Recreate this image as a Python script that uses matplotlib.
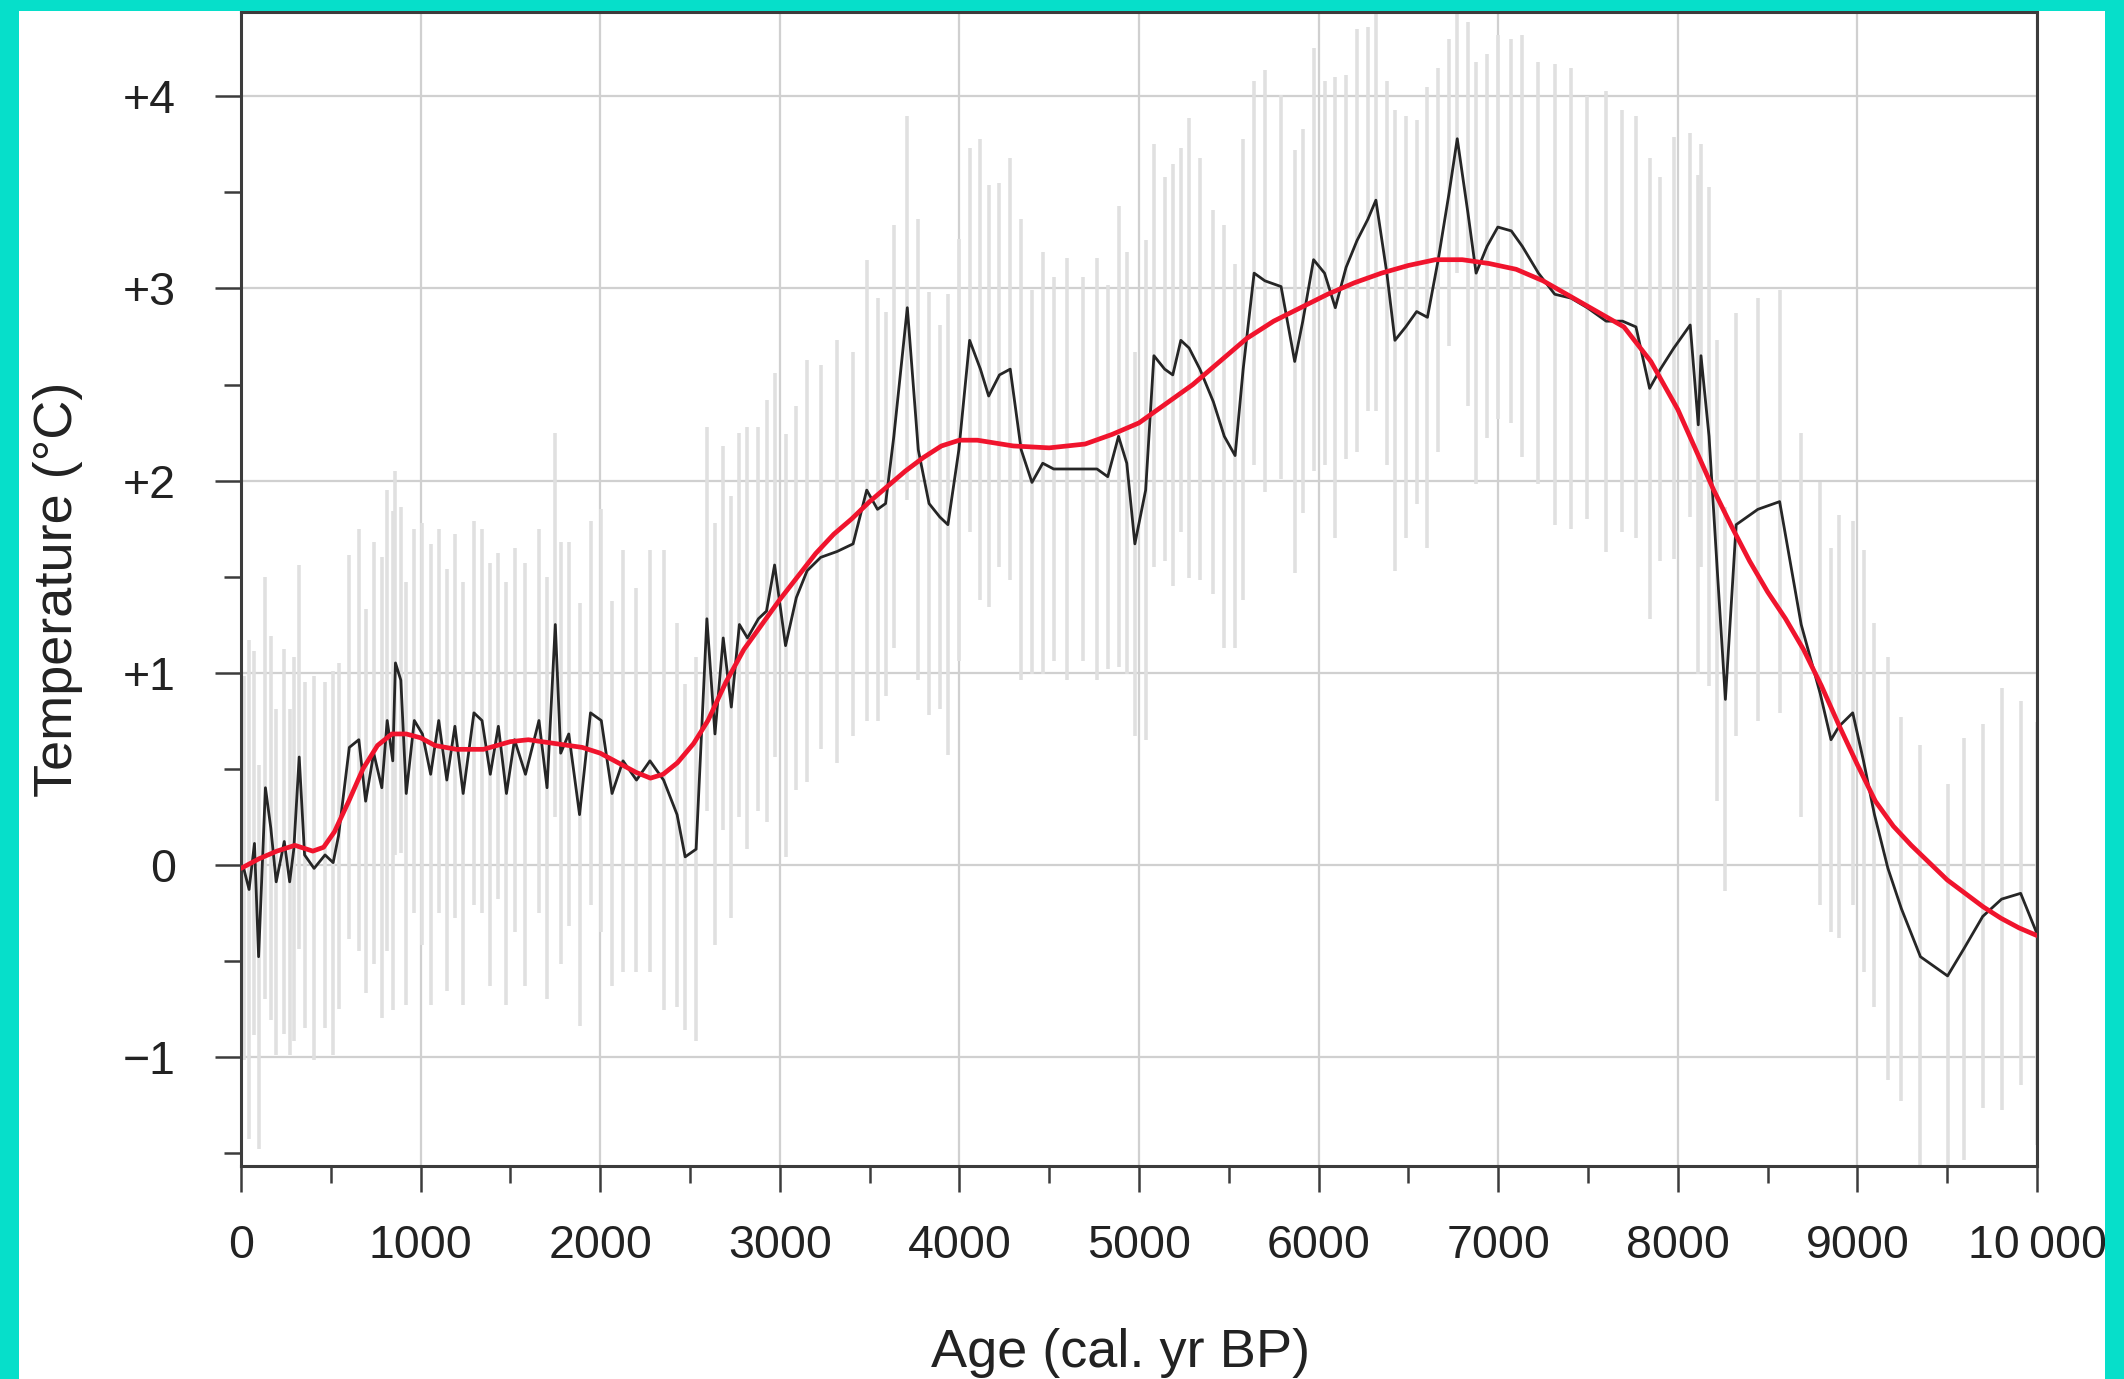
import matplotlib
matplotlib.use('Agg')
import matplotlib.pyplot as plt
from matplotlib.patches import Rectangle
from matplotlib.ticker import FixedLocator
import numpy as np

plt.rcParams['font.family'] = ['Liberation Sans', 'DejaVu Sans']

# reconstruction (black line), age in cal. yr BP, anomaly in deg C
age = [15, 45, 75, 98, 136, 166, 196, 241, 271, 294, 324, 354, 407, 468, 513, 543,
       603, 656, 694, 739, 784, 814, 845, 860, 890, 920, 965, 1010, 1056, 1101, 1146,
       1191, 1237, 1297, 1342, 1388, 1433, 1478, 1523, 1584, 1659, 1704, 1750, 1780,
       1825, 1885, 1946, 2006, 2066, 2127, 2202, 2277, 2353, 2428, 2473, 2534, 2594,
       2639, 2685, 2730, 2775, 2820, 2881, 2926, 2971, 3032, 3092, 3152, 3228, 3318,
       3408, 3484, 3544, 3589, 3635, 3710, 3771, 3831, 3891, 3936, 3997, 4057, 4117,
       4163, 4223, 4283, 4344, 4404, 4464, 4525, 4600, 4690, 4766, 4826, 4886, 4932,
       4977, 5037, 5083, 5143, 5188, 5233, 5279, 5339, 5414, 5475, 5535, 5580, 5641,
       5701, 5791, 5867, 5912, 5972, 6033, 6093, 6153, 6214, 6274, 6319, 6380, 6425,
       6485, 6546, 6606, 6666, 6727, 6772, 6832, 6877, 6938, 6998, 7073, 7134, 7224,
       7315, 7405, 7496, 7601, 7692, 7767, 7843, 7903, 7978, 8069, 8114, 8129, 8174,
       8220, 8265, 8325, 8446, 8567, 8687, 8793, 8853, 8898, 8974, 9034, 9095, 9170,
       9245, 9351, 9502, 9592, 9698, 9803, 9909, 10000]
temp = [-0.02, -0.13, 0.11, -0.48, 0.40, 0.19, -0.09, 0.12, -0.09, 0.08, 0.56, 0.05,
        -0.02, 0.05, 0.01, 0.15, 0.61, 0.65, 0.33, 0.58, 0.40, 0.75, 0.54, 1.05, 0.96,
        0.37, 0.75, 0.68, 0.47, 0.75, 0.44, 0.72, 0.37, 0.79, 0.75, 0.47, 0.72, 0.37,
        0.65, 0.47, 0.75, 0.40, 1.25, 0.58, 0.68, 0.26, 0.79, 0.75, 0.37, 0.54, 0.44,
        0.54, 0.44, 0.26, 0.04, 0.08, 1.28, 0.68, 1.18, 0.82, 1.25, 1.18, 1.28, 1.32,
        1.56, 1.14, 1.39, 1.53, 1.60, 1.63, 1.67, 1.95, 1.85, 1.88, 2.23, 2.90, 2.16,
        1.88, 1.81, 1.77, 2.16, 2.73, 2.58, 2.44, 2.55, 2.58, 2.16, 1.99, 2.09, 2.06,
        2.06, 2.06, 2.06, 2.02, 2.23, 2.09, 1.67, 1.95, 2.65, 2.58, 2.55, 2.73, 2.69,
        2.58, 2.41, 2.23, 2.13, 2.58, 3.08, 3.04, 3.01, 2.62, 2.83, 3.15, 3.08, 2.90,
        3.11, 3.25, 3.36, 3.46, 3.08, 2.73, 2.80, 2.88, 2.85, 3.15, 3.50, 3.78, 3.39,
        3.08, 3.22, 3.32, 3.30, 3.22, 3.08, 2.97, 2.95, 2.90, 2.83, 2.83, 2.80, 2.48,
        2.58, 2.69, 2.81, 2.29, 2.65, 2.23, 1.53, 0.86, 1.77, 1.85, 1.89, 1.25, 0.89,
        0.65, 0.72, 0.79, 0.54, 0.26, -0.02, -0.23, -0.48, -0.58, -0.44, -0.27, -0.18,
        -0.15, -0.36]
# half length of the grey uncertainty bars
err = [1.0, 1.3, 1.0, 1.0, 1.1, 1.0, 0.9, 1.0, 0.9, 1.0, 1.0, 0.9, 1.0, 0.9, 1.0, 0.9,
       1.0, 1.1, 1.0, 1.1, 1.2, 1.2, 1.3, 1.0, 0.9, 1.1, 1.0, 1.1, 1.2, 1.0, 1.1, 1.0,
       1.1, 1.0, 1.0, 1.1, 0.9, 1.1, 1.0, 1.1, 1.0, 1.1, 1.0, 1.1, 1.0, 1.1, 1.0, 1.1,
       1.0, 1.1, 1.0, 1.1, 1.2, 1.0, 0.9, 1.0, 1.0, 1.1, 1.0, 1.1, 1.0, 1.1, 1.0, 1.1,
       1.0, 1.1, 1.0, 1.1, 1.0, 1.1, 1.0, 1.2, 1.1, 1.0, 1.1, 1.0, 1.2, 1.1, 1.0, 1.2,
       1.1, 1.0, 1.2, 1.1, 1.0, 1.1, 1.2, 1.0, 1.1, 1.0, 1.1, 1.0, 1.1, 1.0, 1.2, 1.1,
       1.0, 1.3, 1.1, 1.0, 1.1, 1.0, 1.2, 1.1, 1.0, 1.1, 1.0, 1.2, 1.0, 1.1, 1.0, 1.1,
       1.0, 1.1, 1.0, 1.2, 1.0, 1.1, 1.0, 1.1, 1.0, 1.2, 1.1, 1.0, 1.2, 1.0, 0.8, 0.7,
       1.0, 1.1, 1.0, 1.0, 1.0, 1.1, 1.1, 1.2, 1.2, 1.1, 1.2, 1.1, 1.1, 1.2, 1.0, 1.1,
       1.0, 1.3, 1.1, 1.3, 1.2, 1.0, 1.1, 1.1, 1.1, 1.0, 1.1, 1.0, 1.1, 1.0, 1.1, 1.0,
       1.1, 1.0, 1.1, 1.0, 1.1, 1.0, 1.1, 1.0, 1.1]

# smoothed curve (red)
smooth_age = [0, 100, 200, 300, 400, 460, 520, 600, 680, 760, 840, 920, 1000, 1080,
              1200, 1350, 1500, 1600, 1750, 1900, 2000, 2100, 2200, 2280, 2350, 2430,
              2520, 2600, 2700, 2800, 2900, 3000, 3100, 3200, 3300, 3400, 3500, 3600,
              3700, 3800, 3900, 4000, 4100, 4300, 4500, 4700, 4850, 5000, 5150, 5300,
              5450, 5600, 5750, 5900, 6050, 6200, 6350, 6500, 6650, 6800, 6950, 7100,
              7250, 7400, 7550, 7700, 7850, 8000, 8100, 8200, 8300, 8400, 8500, 8600,
              8700, 8800, 8900, 9000, 9100, 9200, 9300, 9400, 9500, 9600, 9700, 9800,
              9900, 10000]
smooth_temp = [-0.02, 0.03, 0.07, 0.10, 0.07, 0.09, 0.17, 0.33, 0.50, 0.62, 0.68, 0.68,
               0.66, 0.62, 0.60, 0.60, 0.64, 0.65, 0.63, 0.61, 0.58, 0.53, 0.48, 0.45,
               0.47, 0.53, 0.63, 0.75, 0.95, 1.12, 1.25, 1.38, 1.50, 1.62, 1.72, 1.80,
               1.89, 1.97, 2.05, 2.12, 2.18, 2.21, 2.21, 2.18, 2.17, 2.19, 2.24, 2.30,
               2.40, 2.50, 2.62, 2.74, 2.83, 2.90, 2.97, 3.03, 3.08, 3.12, 3.15, 3.15,
               3.13, 3.10, 3.04, 2.96, 2.88, 2.80, 2.62, 2.37, 2.16, 1.95, 1.76, 1.58,
               1.42, 1.28, 1.12, 0.93, 0.72, 0.52, 0.33, 0.20, 0.10, 0.01, -0.08, -0.15,
               -0.22, -0.28, -0.33, -0.37]

x_ticks = [0, 1000, 2000, 3000, 4000, 5000, 6000, 7000, 8000, 9000, 10000]
x_labels = ['0', '1000', '2000', '3000', '4000', '5000', '6000', '7000', '8000',
            '9000', '10\u2009000']
y_ticks = [-1, 0, 1, 2, 3, 4]
y_labels = ['\u22121', '0', '+1', '+2', '+3', '+4']

W, H = 2124, 1379
fig = plt.figure(figsize=(W / 100, H / 100), dpi=100)
ax = fig.add_axes([241 / W, 1 - 1166 / H, (2037 - 241) / W, (1166 - 12) / H])

dark = '#3c3c3c'
ax.vlines(age, np.array(temp) - np.array(err), np.array(temp) + np.array(err),
          color='#e0e0e0', linewidth=2.6, zorder=2)
ax.plot(age, temp, color='#262626', linewidth=2.0, zorder=3)
ax.plot(smooth_age, smooth_temp, color='#f0142d', linewidth=3.4, zorder=4,
        solid_capstyle='round', solid_joinstyle='round')

ax.set_xlim(0, 10000)
ax.set_ylim(-1.57, 4.44)
ax.grid(True, which='major', color='#d0d0d0', linewidth=1.6, zorder=0)
ax.set_axisbelow(True)

ax.set_xticks(x_ticks)
ax.set_xticklabels(x_labels)
ax.xaxis.set_minor_locator(FixedLocator([500, 1500, 2500, 3500, 4500, 5500, 6500,
                                         7500, 8500, 9500]))
ax.set_yticks(y_ticks)
ax.set_yticklabels(y_labels)
ax.yaxis.set_minor_locator(FixedLocator([-1.5, -0.5, 0.5, 1.5, 2.5, 3.5]))

ax.tick_params(which='major', direction='out', length=19, width=1.8, color=dark,
               labelsize=33.5, labelcolor='#222222')
ax.tick_params(axis='x', which='major', pad=23)
ax.tick_params(axis='y', which='major', pad=28)
ax.tick_params(which='minor', direction='out', length=12, width=1.8, color=dark)

for s in ax.spines.values():
    s.set_color(dark)
    s.set_linewidth(2.2)

ax.set_xlabel('Age (cal. yr BP)', fontsize=39, color='#222222')
ax.set_ylabel('Temperature (\u00b0C)', fontsize=39, color='#222222')
ax.xaxis.set_label_coords(0.49, -0.162)
ax.xaxis.label.set_va('center')
ax.yaxis.set_label_coords(-0.102, 0.5)
ax.yaxis.label.set_va('center')

# turquoise frame on left, top and right
teal = '#06dfca'
for (x0, y0, w, h) in [(0, 0, 19, H), (0, H - 11, W, 11), (2105, 0, W - 2105, H)]:
    fig.add_artist(Rectangle((x0 / W, y0 / H), w / W, h / H, transform=fig.transFigure,
                             facecolor=teal, edgecolor='none', zorder=10))

plt.savefig('out.png', dpi=100)
